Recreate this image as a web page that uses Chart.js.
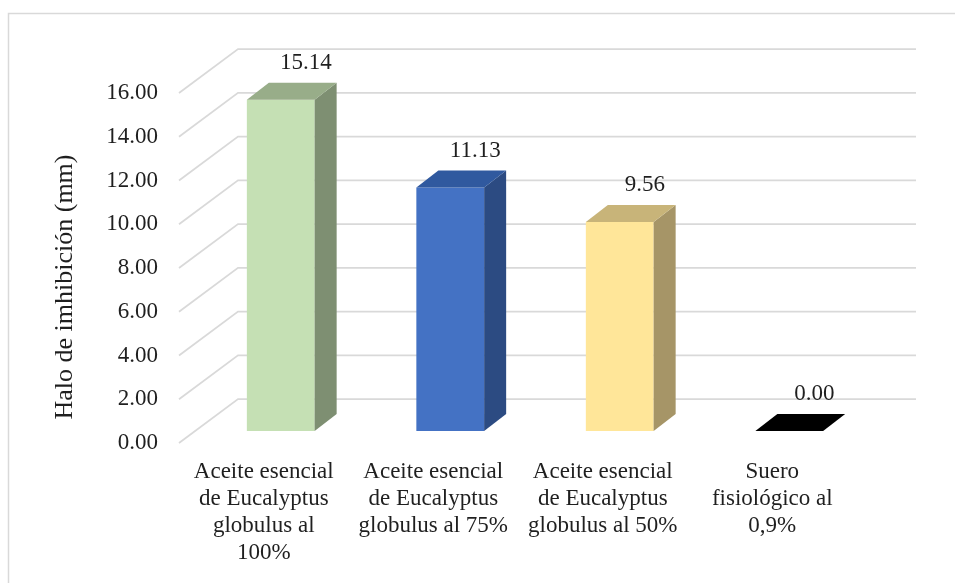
<!DOCTYPE html>
<html>
<head>
<meta charset="utf-8">
<script src="https://cdn.jsdelivr.net/npm/chart.js@4.4.0/dist/chart.umd.min.js"></script>
<style>
  html, body { margin: 0; padding: 0; background: #ffffff; }
  canvas { display: block; }
</style>
</head>
<body>
<canvas id="chart" width="955" height="583"></canvas>
<script>
// Categories (multi-line axis labels)
const categories = [
  ["Aceite esencial", "de Eucalyptus", "globulus al", "100%"],
  ["Aceite esencial", "de Eucalyptus", "globulus al 75%"],
  ["Aceite esencial", "de Eucalyptus", "globulus al 50%"],
  ["Suero", "fisiológico al", "0,9%"]
];

// Inhibition halo (mm)
const halo = [15.14, 11.13, 9.56, 0.00];

// Value axis ticks
const yTicks = [0, 2, 4, 6, 8, 10, 12, 14, 16];

const yTitle = "Halo de imhibición (mm)";

// Face colours: front, top, side
const frontColors = ["#c5e0b4", "#4472c4", "#ffe699", "#000000"];
const topColors   = ["#98ad89", "#30599f", "#c8b479", "#000000"];
const sideColors  = ["#7e8f72", "#2c4b82", "#a69567", "#000000"];

// 3-D projection offsets (pixels)
const FLOOR_DX = 59, FLOOR_DY = 44;   // full depth of the floor / back wall
const BAR_DX = 17, BAR_DY = 12;       // bar front face set back from the front plane
const DEPTH_DX = 22, DEPTH_DY = 17;   // depth of each bar

const SERIF = "'Liberation Serif', 'Times New Roman', serif";
const TEXT = "#1f1f1f";
const GRID = "#d9d9d9";

const threeD = {
  id: "threeD",
  beforeDraw(chart) {
    const ctx = chart.ctx;
    ctx.save();
    ctx.fillStyle = "#ffffff";
    ctx.fillRect(0, 0, chart.width, chart.height);
    // outer frame
    ctx.strokeStyle = GRID;
    ctx.lineWidth = 1.5;
    ctx.strokeRect(8.5, 13.5, chart.width + 10, chart.height + 10);
    ctx.restore();
  },
  beforeDatasetsDraw(chart) {
    const ctx = chart.ctx;
    const y = chart.scales.y;
    const area = chart.chartArea;
    ctx.save();
    ctx.strokeStyle = GRID;
    ctx.lineWidth = 1.75;
    ctx.lineCap = "butt";
    yTicks.forEach(v => {
      const py = y.getPixelForValue(v);
      ctx.beginPath();
      ctx.moveTo(area.left, py);
      ctx.lineTo(area.left + FLOOR_DX, py - FLOOR_DY);
      ctx.lineTo(area.right + FLOOR_DX, py - FLOOR_DY);
      ctx.stroke();
    });
    ctx.restore();
    // bars are drawn set back into the depth of the floor
    ctx.save();
    ctx.translate(BAR_DX, -BAR_DY);
  },
  afterDatasetsDraw(chart) {
    const ctx = chart.ctx;
    const meta = chart.getDatasetMeta(0);
    meta.data.forEach((bar, i) => {
      const p = bar.getProps(["x", "y", "base", "width"], true);
      const x0 = p.x - p.width / 2, x1 = p.x + p.width / 2;
      const top = Math.min(p.y, p.base), base = Math.max(p.y, p.base);
      // side face
      if (base - top > 0.5) {
        ctx.fillStyle = sideColors[i];
        ctx.beginPath();
        ctx.moveTo(x1, top);
        ctx.lineTo(x1 + DEPTH_DX, top - DEPTH_DY);
        ctx.lineTo(x1 + DEPTH_DX, base - DEPTH_DY);
        ctx.lineTo(x1, base);
        ctx.closePath();
        ctx.fill();
      }
      // top face
      ctx.fillStyle = topColors[i];
      ctx.beginPath();
      ctx.moveTo(x0, top);
      ctx.lineTo(x1, top);
      ctx.lineTo(x1 + DEPTH_DX, top - DEPTH_DY);
      ctx.lineTo(x0 + DEPTH_DX, top - DEPTH_DY);
      ctx.closePath();
      ctx.fill();
    });
    ctx.restore();

    // value labels
    ctx.save();
    ctx.font = "23px " + SERIF;
    ctx.fillStyle = TEXT;
    ctx.textAlign = "center";
    ctx.textBaseline = "middle";
    meta.data.forEach((bar, i) => {
      const p = bar.getProps(["x", "y"], true);
      ctx.fillText(halo[i].toFixed(2), p.x + BAR_DX + 25, p.y - BAR_DY - 37);
    });
    ctx.restore();

    // value axis title
    ctx.save();
    ctx.font = "26px " + SERIF;
    ctx.fillStyle = TEXT;
    ctx.textAlign = "center";
    ctx.textBaseline = "middle";
    ctx.translate(65, 287);
    ctx.rotate(-Math.PI / 2);
    ctx.fillText(yTitle, 0, 0);
    ctx.restore();
  }
};

new Chart(document.getElementById("chart"), {
  type: "bar",
  data: {
    labels: categories,
    datasets: [{
      data: halo,
      backgroundColor: frontColors,
      borderWidth: 0,
      barPercentage: 0.4,
      categoryPercentage: 1.0
    }]
  },
  options: {
    responsive: false,
    animation: false,
    devicePixelRatio: 1,
    layout: { padding: { left: 0, right: 98, top: 93, bottom: 0 } },
    plugins: { legend: { display: false }, tooltip: { enabled: false } },
    scales: {
      x: {
        grid: { display: false, drawTicks: false },
        border: { display: false },
        ticks: {
          font: { family: SERIF, size: 23, lineHeight: 27 / 23 },
          color: TEXT,
          padding: 15,
          maxRotation: 0,
          minRotation: 0,
          autoSkip: false
        },
        afterFit(scale) { scale.height = 140; }
      },
      y: {
        min: 0,
        max: 16,
        afterBuildTicks(scale) { scale.ticks = yTicks.map(v => ({ value: v })); },
        grid: { display: false, drawTicks: false },
        border: { display: false },
        ticks: {
          font: { family: SERIF, size: 23 },
          color: TEXT,
          padding: 21,
          callback: v => Number(v).toFixed(2)
        },
        afterFit(scale) { scale.width = 179; }
      }
    }
  },
  plugins: [threeD]
});
</script>
</body>
</html>
